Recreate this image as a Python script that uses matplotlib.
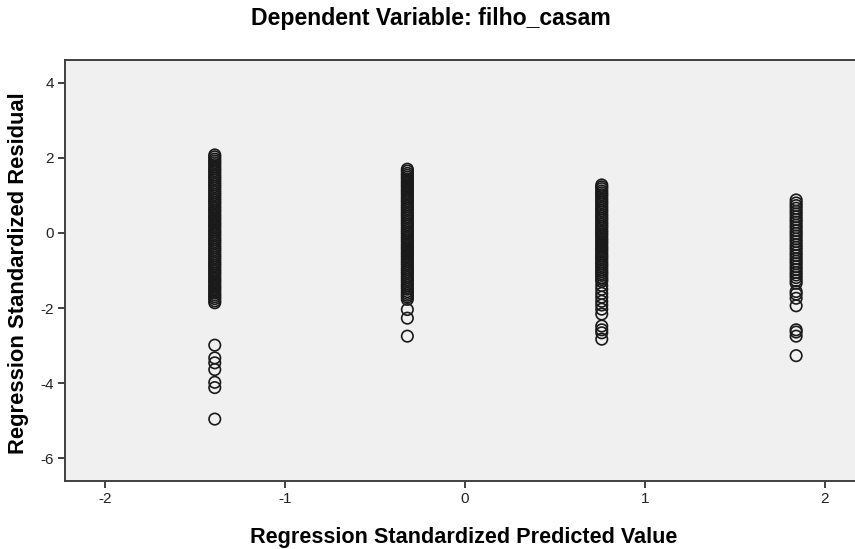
import matplotlib.pyplot as plt

# predicted value of each column (standardized)
pred_levels = [-1.39, -0.32, 0.76, 1.84]

# standardized residuals
resid_1 = [2.08, 2.03, 1.97, 1.92, 1.87, 1.82, 1.76, 1.71, 1.66, 1.61, 1.55, 1.50, 1.45,
           1.40, 1.34, 1.29, 1.24, 1.19, 1.13, 1.08, 1.03, 0.98, 0.92, 0.87, 0.82, 0.77,
           0.71, 0.66, 0.61, 0.56, 0.50, 0.45, 0.40, 0.35, 0.29, 0.24, 0.19, 0.14, 0.08,
           0.03, -0.02, -0.07, -0.13, -0.18, -0.23, -0.28, -0.34, -0.39, -0.44, -0.49,
           -0.55, -0.60, -0.65, -0.70, -0.76, -0.81, -0.86, -0.91, -0.97, -1.02, -1.07,
           -1.12, -1.18, -1.23, -1.28, -1.33, -1.39, -1.44, -1.49, -1.54, -1.60, -1.65,
           -1.70, -1.75, -1.81, -1.86,
           -2.99, -3.33, -3.46, -3.64, -3.98, -4.12, -4.96]
resid_2 = [1.70, 1.65, 1.59, 1.54, 1.49, 1.44, 1.38, 1.33, 1.28, 1.23, 1.17, 1.12, 1.07,
           1.02, 0.96, 0.91, 0.86, 0.81, 0.75, 0.70, 0.65, 0.60, 0.54, 0.49, 0.44, 0.39,
           0.33, 0.28, 0.23, 0.18, 0.12, 0.07, 0.02, -0.03, -0.09, -0.14, -0.19, -0.24,
           -0.30, -0.35, -0.40, -0.45, -0.51, -0.56, -0.61, -0.66, -0.72, -0.77, -0.82,
           -0.87, -0.93, -0.98, -1.03, -1.08, -1.14, -1.19, -1.24, -1.29, -1.35, -1.40,
           -1.45, -1.50, -1.56, -1.61, -1.66, -1.71, -1.77,
           -2.04, -2.27, -2.75]
resid_3 = [1.28, 1.23, 1.18, 1.12, 1.07, 1.02, 0.97, 0.91, 0.86, 0.81, 0.76, 0.70, 0.65,
           0.60, 0.55, 0.49, 0.44, 0.39, 0.34, 0.28, 0.23, 0.18, 0.13, 0.07, 0.02, -0.03,
           -0.08, -0.14, -0.19, -0.24, -0.29, -0.35, -0.40, -0.45, -0.50, -0.56, -0.61,
           -0.66, -0.71, -0.77, -0.82, -0.87, -0.92, -0.98, -1.03, -1.08, -1.13, -1.19,
           -1.24, -1.29, -1.40, -1.50, -1.61, -1.71, -1.82, -1.92, -2.03, -2.16,
           -2.48, -2.58, -2.66, -2.83]
resid_4 = [0.88, 0.80, 0.73, 0.66, 0.58, 0.51, 0.43, 0.36, 0.29, 0.21, 0.14, 0.06, -0.01,
           -0.08, -0.16, -0.23, -0.31, -0.38, -0.45, -0.53, -0.60, -0.68, -0.75, -0.82,
           -0.90, -0.97, -1.05, -1.12, -1.19, -1.27, -1.34,
           -1.56, -1.63, -1.74, -1.94, -2.58, -2.64, -2.75, -3.27]

residuals = [resid_1, resid_2, resid_3, resid_4]

fig = plt.figure(figsize=(8.55, 5.49), dpi=100)
ax = fig.add_axes([65 / 855, 1 - 481 / 549, 790 / 855, 421 / 549])
ax.set_facecolor('#f0f0f0')

for xv, res in zip(pred_levels, residuals):
    ax.scatter([xv] * len(res), res, s=68, facecolors='none', edgecolors='#1a1a1a',
               linewidths=1.2, zorder=3)

ax.set_xlim(-2.222, 2.167)
ax.set_ylim(-6.61, 4.61)
ax.set_xticks([-2, -1, 0, 1, 2])
ax.set_yticks([-6, -4, -2, 0, 2, 4])
ax.set_xticklabels(['-2', '-1', '0', '1', '2'])
ax.set_yticklabels(['-6', '-4', '-2', '0', '2', '4'])

for side in ['left', 'bottom', 'top']:
    ax.spines[side].set_color('#404040')
    ax.spines[side].set_linewidth(1.4)
ax.spines['right'].set_visible(False)
ax.tick_params(direction='out', length=5, width=1.4, color='#404040',
               labelsize=11, labelcolor='#222222', pad=3)
for lbl in ax.get_xticklabels() + ax.get_yticklabels():
    lbl.set_family('Liberation Sans')

fig.text(431 / 855, 1 - 19 / 549, 'Dependent Variable: filho_casam', ha='center',
         va='center', fontsize=16.6, fontweight='bold', family='Liberation Sans')
fig.text(464 / 855, 1 - 537 / 549, 'Regression Standardized Predicted Value',
         ha='center', va='center', fontsize=15.6, fontweight='bold',
         family='Liberation Sans')
fig.text(19 / 855, 1 - 273 / 549, 'Regression Standardized Residual', ha='center',
         va='center', rotation=90, fontsize=15.8, fontweight='bold',
         family='Liberation Sans')

fig.savefig('out.png', dpi=100, facecolor='white')
